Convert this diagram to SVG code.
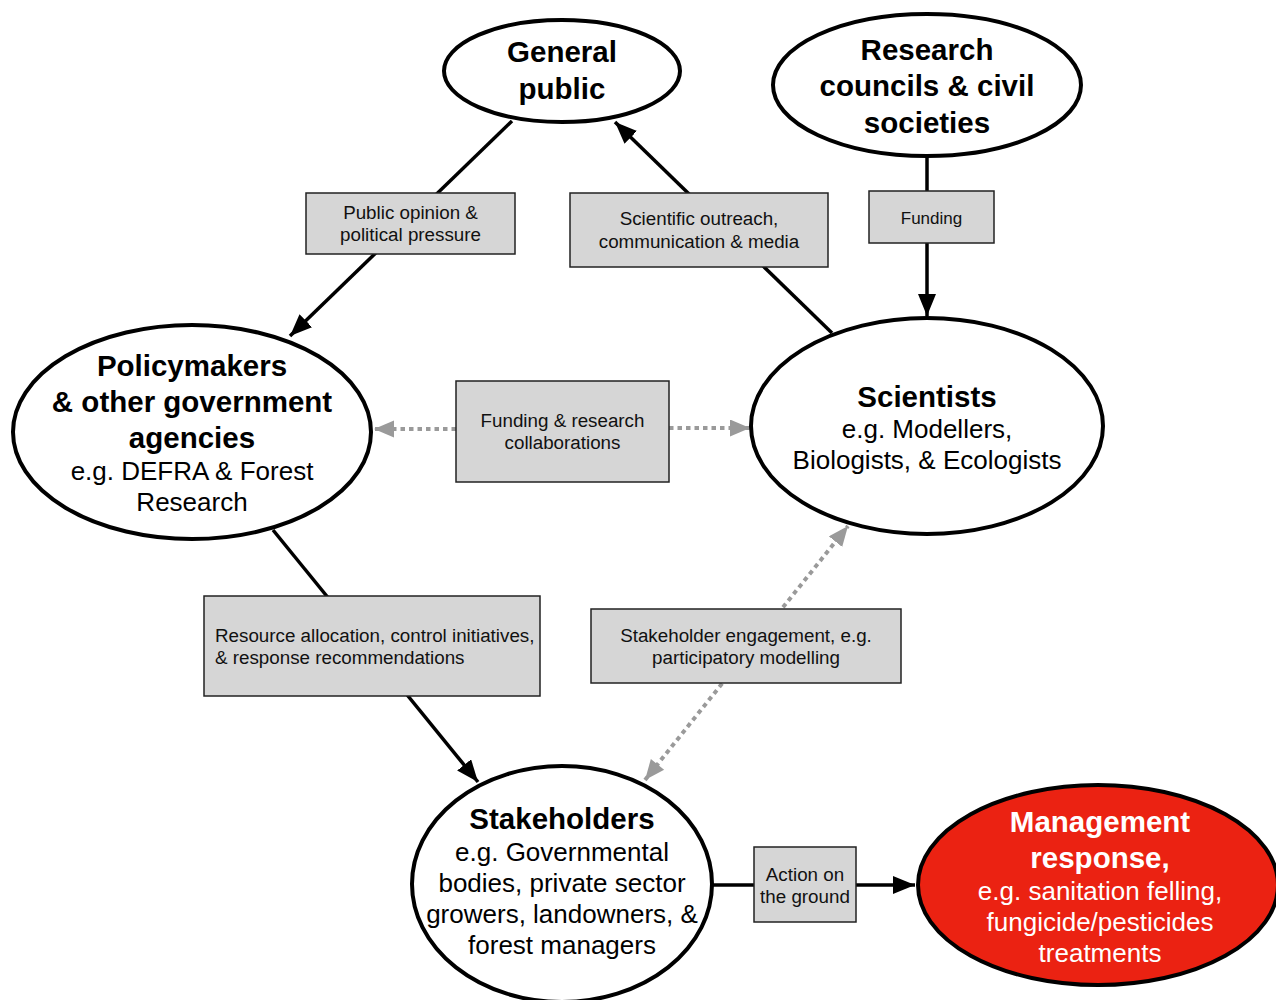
<svg xmlns="http://www.w3.org/2000/svg" width="1276" height="1000" viewBox="0 0 1276 1000">
<style>
.node{fill:#fff;stroke:#000;stroke-width:4}
.red{fill:#eb2212;stroke:#000;stroke-width:4}
.box{fill:#d6d6d6;stroke:#222;stroke-width:1.5}
.b{font-family:"Liberation Sans",Arial,sans-serif;font-weight:bold;font-size:29.5px;text-anchor:middle;fill:#000}
.r{font-family:"Liberation Sans",Arial,sans-serif;font-size:26px;text-anchor:middle;fill:#000}
.w{fill:#fff}
.t{font-family:"Liberation Sans",Arial,sans-serif;font-size:18.8px;text-anchor:middle;fill:#111}
.solid{stroke:#000;stroke-width:3.5;fill:none;marker-end:url(#ah)}
.dot{stroke:#9a9a9a;stroke-width:4;fill:none;stroke-dasharray:4.5 4}
</style>
<defs>
<marker id="ah" markerUnits="userSpaceOnUse" markerWidth="24" markerHeight="20" refX="22" refY="9" orient="auto"><path d="M0,0 L22,9 L0,18 z" fill="#000"/></marker>
<marker id="gh" markerUnits="userSpaceOnUse" markerWidth="24" markerHeight="20" refX="20" refY="8.5" orient="auto"><path d="M0,0 L20,8.5 L0,17 z" fill="#9a9a9a"/></marker>
<marker id="gs" markerUnits="userSpaceOnUse" markerWidth="24" markerHeight="20" refX="0" refY="8.5" orient="auto"><path d="M20,0 L0,8.5 L20,17 z" fill="#9a9a9a"/></marker>
</defs>
<rect width="1276" height="1000" fill="#fff"/>
<g id="connectors">
<line class="solid" x1="512" y1="121" x2="290" y2="336"/>
<line class="solid" x1="832" y1="333" x2="615" y2="122"/>
<line class="solid" x1="927" y1="156" x2="927" y2="316"/>
<line class="dot" x1="456" y1="429" x2="374" y2="429" marker-end="url(#gh)"/>
<line class="dot" x1="669" y1="428" x2="750" y2="428" marker-end="url(#gh)"/>
<line class="solid" x1="273" y1="530" x2="478" y2="782"/>
<line class="dot" x1="645" y1="780" x2="848" y2="526" marker-start="url(#gs)" marker-end="url(#gh)"/>
<line class="solid" x1="712" y1="885" x2="915" y2="885"/>
</g>
<g id="general-public">
<ellipse class="node" cx="562" cy="71" rx="118" ry="51"/>
<text class="b" x="562" y="62">General</text>
<text class="b" x="562" y="99">public</text>
</g>
<g id="research-councils">
<ellipse class="node" cx="927" cy="85" rx="154" ry="71"/>
<text class="b" x="927" y="60">Research</text>
<text class="b" x="927" y="96">councils &amp; civil</text>
<text class="b" x="927" y="133">societies</text>
</g>
<g id="policymakers">
<ellipse class="node" cx="192" cy="432" rx="179" ry="107"/>
<text class="b" x="192" y="376">Policymakers</text>
<text class="b" x="192" y="412">&amp; other government</text>
<text class="b" x="192" y="448">agencies</text>
<text class="r" x="192" y="480">e.g. DEFRA &amp; Forest</text>
<text class="r" x="192" y="511">Research</text>
</g>
<g id="scientists">
<ellipse class="node" cx="927" cy="426" rx="176" ry="108"/>
<text class="b" x="927" y="407">Scientists</text>
<text class="r" x="927" y="438">e.g. Modellers,</text>
<text class="r" x="927" y="469">Biologists, &amp; Ecologists</text>
</g>
<g id="stakeholders">
<ellipse class="node" cx="562" cy="884" rx="150" ry="118"/>
<text class="b" x="562" y="829">Stakeholders</text>
<text class="r" x="562" y="861">e.g. Governmental</text>
<text class="r" x="562" y="892">bodies, private sector</text>
<text class="r" x="562" y="923">growers, landowners, &amp;</text>
<text class="r" x="562" y="954">forest managers</text>
</g>
<g id="management-response">
<ellipse class="red" cx="1098" cy="885" rx="180" ry="100"/>
<text class="b w" x="1100" y="832">Management</text>
<text class="b w" x="1100" y="868">response,</text>
<text class="r w" x="1100" y="900">e.g. sanitation felling,</text>
<text class="r w" x="1100" y="931">fungicide/pesticides</text>
<text class="r w" x="1100" y="962">treatments</text>
</g>
<g id="label-public-opinion">
<rect class="box" x="306" y="193" width="209" height="61"/>
<text class="t" x="410.5" y="219">Public opinion &amp;</text>
<text class="t" x="410.5" y="241">political pressure</text>
</g>
<g id="label-outreach">
<rect class="box" x="570" y="193" width="258" height="74"/>
<text class="t" x="699" y="225">Scientific outreach,</text>
<text class="t" x="699" y="248">communication &amp; media</text>
</g>
<g id="label-funding">
<rect class="box" x="869" y="191" width="125" height="52"/>
<text class="t" x="931.5" y="223.5" style="font-size:17px">Funding</text>
</g>
<g id="label-collaborations">
<rect class="box" x="456" y="381" width="213" height="101"/>
<text class="t" x="562.5" y="427">Funding &amp; research</text>
<text class="t" x="562.5" y="449">collaborations</text>
</g>
<g id="label-resource">
<rect class="box" x="204" y="596" width="336" height="100"/>
<text class="t" x="215" y="642" style="text-anchor:start">Resource allocation, control initiatives,</text>
<text class="t" x="215" y="664" style="text-anchor:start">&amp; response recommendations</text>
</g>
<g id="label-engagement">
<rect class="box" x="591" y="609" width="310" height="74"/>
<text class="t" x="746" y="642">Stakeholder engagement, e.g.</text>
<text class="t" x="746" y="664">participatory modelling</text>
</g>
<g id="label-action">
<rect class="box" x="754" y="847" width="102" height="75"/>
<text class="t" x="805" y="881">Action on</text>
<text class="t" x="805" y="903">the ground</text>
</g>
</svg>
